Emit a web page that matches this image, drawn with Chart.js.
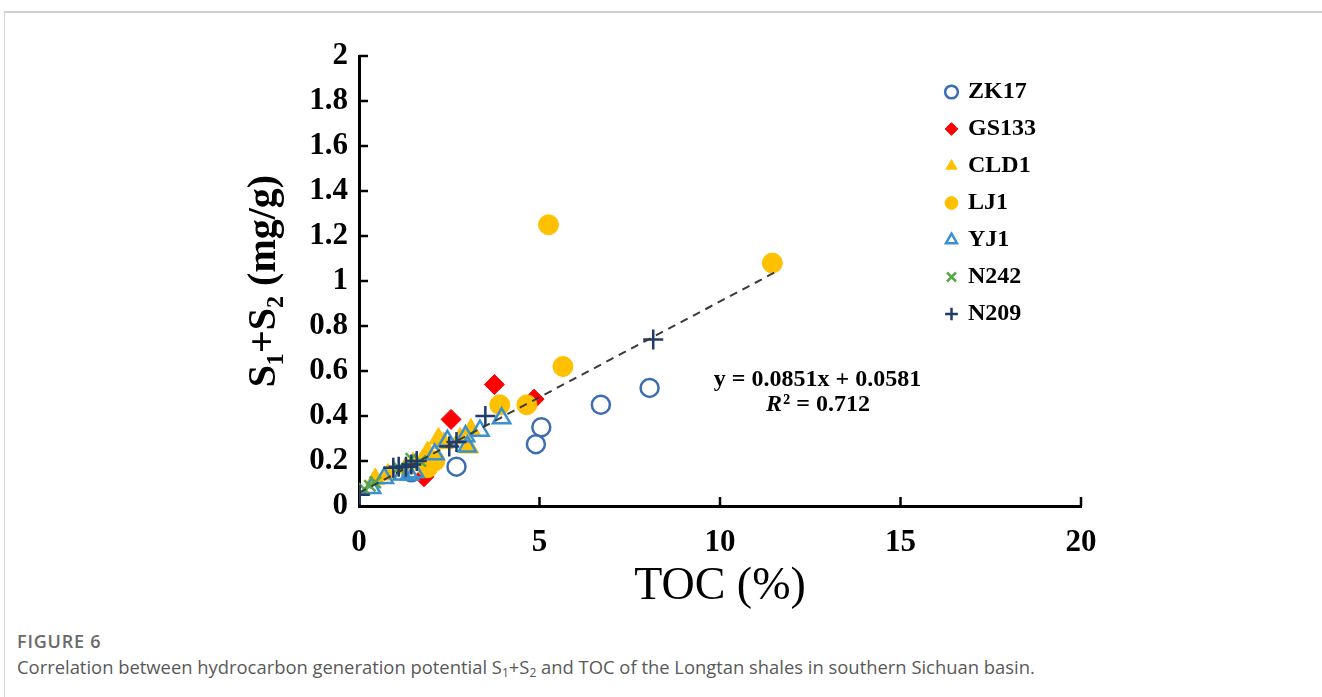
<!DOCTYPE html>
<html>
<head>
<meta charset="utf-8">
<script src="https://cdn.jsdelivr.net/npm/chart.js@4.4.1/dist/chart.umd.min.js"></script>
<style>
  body { margin: 0; background: #fff; }
  .frame {
    position: absolute; left: 4px; top: 11px; width: 1318px; height: 686px;
    border-top: 2px solid #cfcfcf; border-left: 1px solid #d8d8d8;
  }
  #plot { position: absolute; left: 0; top: 0; }
  .fig-label {
    position: absolute; left: 17px; top: 629px;
    font: 600 18px "Open Sans", sans-serif; color: #6a6a6a; letter-spacing: 0.8px;
  }
  .fig-text {
    position: absolute; left: 17px; top: 654px;
    font: 18.4px "Open Sans", sans-serif; color: #595959;
  }
  .fig-text sub { font-size: 12px; vertical-align: -3px; line-height: 0; }
</style>
</head>
<body>
<div class="frame"></div>
<canvas id="plot" width="1322" height="625"></canvas>
<div class="fig-label">FIGURE 6</div>
<div class="fig-text">Correlation between hydrocarbon generation potential S<sub>1</sub>+S<sub>2</sub> and TOC of the Longtan shales in southern Sichuan basin.</div>

<script>
// TOC (%) vs S1+S2 (mg/g) per well
const zk17 = [[1.45, 0.15], [2.7, 0.175], [4.9, 0.275], [5.05, 0.35], [6.7, 0.45], [8.05, 0.525]];
const gs133 = [[1.8, 0.13], [2.55, 0.385], [3.75, 0.54], [4.85, 0.475]];
const cld1 = [[0.45, 0.12], [0.8, 0.14], [1.3, 0.17], [1.5, 0.19], [1.75, 0.2], [1.9, 0.24],
  [2.2, 0.3], [2.35, 0.28], [2.8, 0.3], [3.05, 0.26], [3.1, 0.34]];
const lj1 = [[1.9, 0.17], [2.1, 0.2], [3.9, 0.45], [4.65, 0.45], [5.25, 1.25], [5.65, 0.62], [11.45, 1.08]];
const yj1 = [[0.35, 0.08], [0.7, 0.125], [1.2, 0.14], [1.4, 0.14], [1.55, 0.15], [2.1, 0.23],
  [2.45, 0.29], [2.95, 0.31], [3.0, 0.265], [3.35, 0.335], [3.95, 0.39]];
const n242 = [[0.15, 0.075], [0.3, 0.09], [0.45, 0.105], [1.1, 0.17], [1.45, 0.21], [1.7, 0.2]];
const n209 = [[0.02, 0.05], [0.95, 0.17], [1.1, 0.175], [1.3, 0.175], [1.45, 0.185], [1.6, 0.2],
  [2.5, 0.265], [2.7, 0.285], [3.5, 0.4], [8.15, 0.74]];

// linear fit y = a*x + b over TOC 0..11.5
const fitSlope = 0.0851;
const fitIntercept = 0.0581;
const fitR2 = 0.712;
const fitRange = [0, 11.5];

const xTickValues = [0, 5, 10, 15, 20];
const yTickValues = [0, 0.2, 0.4, 0.6, 0.8, 1, 1.2, 1.4, 1.6, 1.8, 2];

const serif = "'Liberation Serif', 'Times New Roman', serif";
const toXY = pts => pts.map(([x, y]) => ({ x, y }));

function series(label, pts, style, order) {
  return Object.assign({
    label, data: toXY(pts), order,
    showLine: false, borderWidth: 2.5
  }, style);
}

const clear = 'rgba(255,255,255,0)';
const datasets = [
  series('ZK17', zk17, { pointStyle: 'circle', pointRadius: 9, borderColor: '#3c6db3', backgroundColor: clear }, 7),
  series('GS133', gs133, { pointStyle: 'rectRot', pointRadius: 10, borderColor: '#ff0000', backgroundColor: '#ff0000', borderWidth: 1 }, 6),
  series('CLD1', cld1, { pointStyle: 'triangle', pointRadius: 11, borderColor: '#ffc000', backgroundColor: '#ffc000', borderWidth: 1 }, 5),
  series('LJ1', lj1, { pointStyle: 'circle', pointRadius: 10, borderColor: '#ffc000', backgroundColor: '#ffc000', borderWidth: 1 }, 4),
  series('YJ1', yj1, { pointStyle: 'triangle', pointRadius: 10, borderColor: '#3b90cf', backgroundColor: clear }, 3),
  series('N242', n242, { pointStyle: 'crossRot', pointRadius: 8, borderColor: '#5aa64a', backgroundColor: '#5aa64a' }, 2),
  series('N209', n209, { pointStyle: 'cross', pointRadius: 10, borderColor: '#1f3b6a', backgroundColor: '#1f3b6a' }, 1),
  {
    label: 'fit', type: 'line', order: 0,
    data: fitRange.map(x => ({ x, y: fitSlope * x + fitIntercept })),
    borderColor: '#3a3a3a', borderWidth: 2, borderDash: [8, 6],
    pointRadius: 0, fill: false
  }
];

// ticks point inward from both axes
const innerTicks = {
  id: 'innerTicks',
  beforeDatasetsDraw(chart) {
    const { ctx, chartArea: a, scales: { x, y } } = chart;
    ctx.save();
    ctx.strokeStyle = '#000';
    ctx.lineWidth = 2.5;
    ctx.beginPath();
    xTickValues.slice(1).forEach(v => {
      const px = x.getPixelForValue(v);
      ctx.moveTo(px, a.bottom);
      ctx.lineTo(px, a.bottom - 9);
    });
    yTickValues.slice(1).forEach(v => {
      const py = y.getPixelForValue(v);
      ctx.moveTo(a.left, py);
      ctx.lineTo(a.left + 9, py);
    });
    ctx.stroke();
    ctx.restore();
  }
};

// regression equation next to the line
const fitLabel = {
  id: 'fitLabel',
  afterDatasetsDraw(chart) {
    const { ctx, scales: { x, y } } = chart;
    const cx = x.getPixelForValue(12.7);
    const bold = 'bold 24px ' + serif;
    const italic = 'italic bold 24px ' + serif;
    ctx.save();
    ctx.fillStyle = '#000';
    ctx.textBaseline = 'middle';
    ctx.font = bold;
    ctx.textAlign = 'center';
    ctx.fillText('y = ' + fitSlope + 'x + ' + fitIntercept, cx, y.getPixelForValue(0.56));

    const rPart = 'R';
    const rest = '² = ' + fitR2;
    ctx.font = italic;
    const w1 = ctx.measureText(rPart).width;
    ctx.font = bold;
    const w2 = ctx.measureText(rest).width;
    const left = cx - (w1 + w2) / 2;
    const ry = y.getPixelForValue(0.449);
    ctx.textAlign = 'left';
    ctx.font = italic;
    ctx.fillText(rPart, left, ry);
    ctx.font = bold;
    ctx.fillText(rest, left + w1 + 1, ry);
    ctx.restore();
  }
};

// legend sits inside the plot, to the upper right
const legendSpot = {
  id: 'legendSpot',
  afterLayout(chart) {
    chart.legend.left = 934;
    chart.legend.top = 67;
  }
};

new Chart(document.getElementById('plot'), {
  type: 'scatter',
  data: { datasets },
  options: {
    responsive: false,
    animation: false,
    layout: { padding: { left: 241, top: 56, right: 241, bottom: 8 } },
    plugins: {
      tooltip: { enabled: false },
      legend: {
        position: 'chartArea',
        align: 'start',
        labels: {
          usePointStyle: true,
          boxWidth: 9,
          boxHeight: 9,
          padding: 13,
          color: '#000',
          font: { family: serif, size: 24, weight: 'bold' },
          filter: item => item.text !== 'fit',
          sort: (a, b) => a.datasetIndex - b.datasetIndex
        }
      }
    },
    scales: {
      x: {
        type: 'linear',
        min: 0, max: 20,
        afterBuildTicks: s => { s.ticks = xTickValues.map(value => ({ value })); },
        afterFit: s => { s.height = 111; },
        grid: { display: false, drawTicks: false },
        border: { display: true, color: '#000', width: 3 },
        ticks: {
          color: '#000', padding: 18,
          font: { family: serif, size: 31, weight: 'bold' },
          callback: v => String(v)
        },
        title: {
          display: true, text: 'TOC (%)', color: '#000',
          font: { family: serif, size: 46 }, padding: { top: 0, bottom: 2 }
        }
      },
      y: {
        type: 'linear',
        min: 0, max: 2,
        afterBuildTicks: s => { s.ticks = yTickValues.map(value => ({ value })); },
        afterFit: s => { s.width = 118; },
        grid: { display: false, drawTicks: false },
        border: { display: true, color: '#000', width: 3 },
        ticks: {
          color: '#000', padding: 11,
          font: { family: serif, size: 31, weight: 'bold' },
          callback: v => String(v)
        },
        title: {
          display: true, text: 'S₁+S₂ (mg/g)', color: '#000',
          font: { family: serif, size: 40, weight: 'bold' }, padding: { top: 0, bottom: 0 }
        }
      }
    }
  },
  plugins: [innerTicks, fitLabel, legendSpot]
});
</script>
</body>
</html>
